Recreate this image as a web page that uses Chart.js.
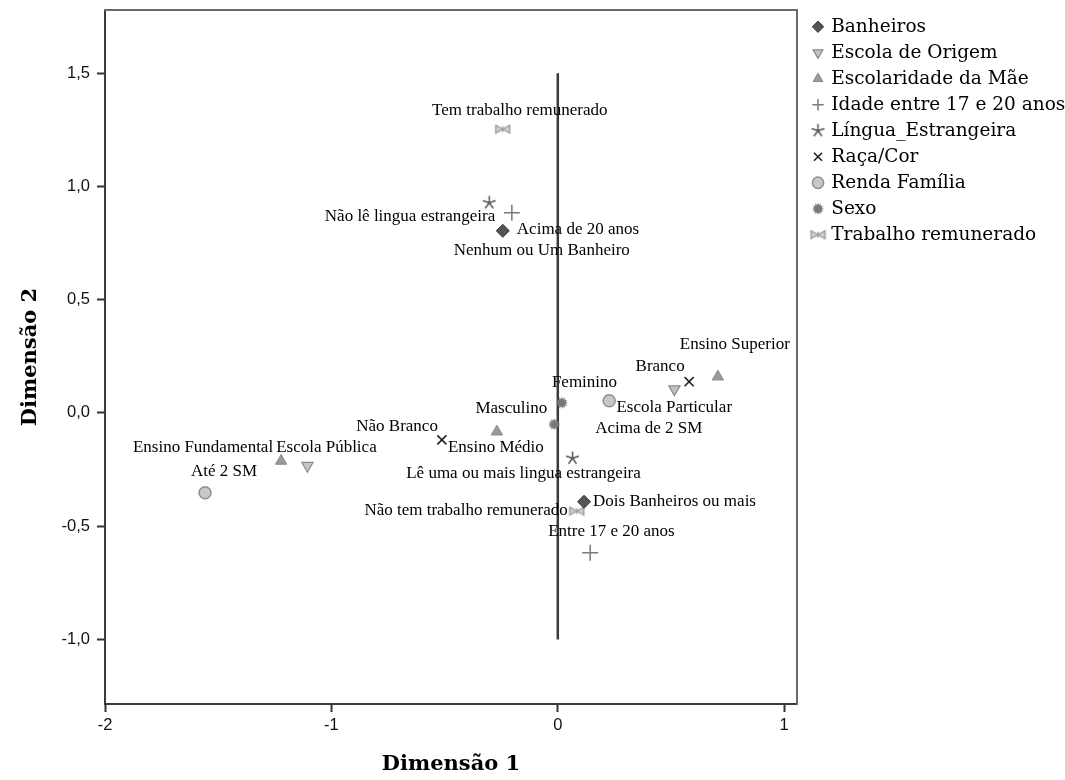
<!DOCTYPE html>
<html><head><meta charset="utf-8">
<script src="https://cdn.jsdelivr.net/npm/chart.js@4/dist/chart.umd.min.js"></script>
<style>html,body{margin:0;padding:0;background:#fff}#wrap{width:1065px;height:780px}</style>
</head><body><div id="wrap"><canvas id="c" width="1065" height="780"></canvas></div>
<script>
// ---------- data ----------
const seriesNames = ['Banheiros','Escola de Origem','Escolaridade da Mãe','Idade entre 17 e 20 anos','Língua_Estrangeira','Raça/Cor','Renda Família','Sexo','Trabalho remunerado'];

const banheirosLabels = ['Nenhum ou Um Banheiro','Dois Banheiros ou mais'];
const banheirosX = [-0.243, 0.116];
const banheirosY = [0.804, -0.392];

const escolaLabels = ['Escola Pública','Escola Particular'];
const escolaX = [-1.106, 0.515];
const escolaY = [-0.233, 0.105];

const maeLabels = ['Ensino Fundamental','Ensino Médio','Ensino Superior'];
const maeX = [-1.222, -0.269, 0.707];
const maeY = [-0.212, -0.083, 0.160];

const idadeLabels = ['Acima de 20 anos','Entre 17 e 20 anos'];
const idadeX = [-0.203, 0.143];
const idadeY = [0.884, -0.617];

const linguaLabels = ['Não lê lingua estrangeira','Lê uma ou mais lingua estrangeira'];
const linguaX = [-0.303, 0.065];
const linguaY = [0.928, -0.200];

const racaLabels = ['Branco','Não Branco'];
const racaX = [0.580, -0.512];
const racaY = [0.138, -0.119];

const rendaLabels = ['Até 2 SM','Acima de 2 SM'];
const rendaX = [-1.558, 0.227];
const rendaY = [-0.352, 0.054];

const sexoLabels = ['Feminino','Masculino'];
const sexoX = [0.018, -0.016];
const sexoY = [0.045, -0.050];

const trabalhoLabels = ['Tem trabalho remunerado','Não tem trabalho remunerado'];
const trabalhoX = [-0.243, 0.084];
const trabalhoY = [1.253, -0.433];

const refLineX = [0, 0];
const refLineY = [1.5, -1.0];

const xTicks = [-2, -1, 0, 1];
const yTicks = [-1.0, -0.5, 0, 0.5, 1.0, 1.5];

// ---------- label placement (pixel offsets from the point) ----------
const placeBanheiros = [[39, 20, 'center'], [9, 0, 'left']];
const placeEscola = [[19, -18, 'center'], [-58, 18, 'left']];
const placeMae = [[-8, -13, 'right'], [-49, 16, 'left'], [-38, -32, 'left']];
const placeIdade = [[5, 17, 'left'], [-42, -21, 'left']];
const placeLingua = [[6, 14, 'right'], [-49, 15, 'center']];
const placeRaca = [[-29, -15, 'center'], [-4, -13, 'right']];
const placeRenda = [[19, -21, 'center'], [-14, 28, 'left']];
const placeSexo = [[-10, -20, 'left'], [-7, -16, 'right']];
const placeTrabalho = [[17, -19, 'center'], [-9, 0, 'right']];

// ---------- custom marker images ----------
function makeMarker(w, h, draw) {
  const c = document.createElement('canvas');
  c.width = w; c.height = h;
  const g = c.getContext('2d');
  draw(g, w / 2, h / 2);
  return c;
}
const starMarker = makeMarker(15, 15, (g, cx, cy) => {
  g.strokeStyle = '#555'; g.lineWidth = 1.5; g.lineCap = 'round';
  g.beginPath();
  for (let k = 0; k < 5; k++) {
    const a = -Math.PI / 2 + k * 2 * Math.PI / 5;
    g.moveTo(cx, cy);
    g.lineTo(cx + Math.cos(a) * 6.2, cy + Math.sin(a) * 6.2);
  }
  g.stroke();
});
const sexoMarker = makeMarker(14, 14, (g, cx, cy) => {
  g.fillStyle = '#7a7a7a';
  g.beginPath();
  const n = 12;
  for (let k = 0; k < 2 * n; k++) {
    const a = k * Math.PI / n;
    const r = (k % 2 === 0) ? 6 : 3.8;
    const px = cx + Math.cos(a) * r, py = cy + Math.sin(a) * r;
    if (k === 0) g.moveTo(px, py); else g.lineTo(px, py);
  }
  g.closePath(); g.fill();
});
const bowtieMarker = makeMarker(17, 11, (g, cx, cy) => {
  g.fillStyle = '#d0d0d0'; g.strokeStyle = '#999'; g.lineWidth = 1.3;
  g.beginPath();
  g.moveTo(1.5, 1.5); g.lineTo(cx, cy); g.lineTo(1.5, 9.5); g.closePath();
  g.moveTo(15.5, 1.5); g.lineTo(cx, cy); g.lineTo(15.5, 9.5); g.closePath();
  g.fill(); g.stroke();
  g.beginPath(); g.moveTo(cx, 2.5); g.lineTo(cx, 8.5); g.stroke();
});

function pts(xs, ys) { return xs.map((x, i) => ({ x: x, y: ys[i] })); }

const datasets = [
  { label: seriesNames[0], data: pts(banheirosX, banheirosY), pointLabels: banheirosLabels, place: placeBanheiros,
    pointStyle: 'rectRot', pointRadius: 6.5, backgroundColor: '#555555', borderColor: '#333333', borderWidth: 1 },
  { label: seriesNames[1], data: pts(escolaX, escolaY), pointLabels: escolaLabels, place: placeEscola,
    pointStyle: 'triangle', rotation: 180, pointRadius: 6.5, backgroundColor: '#c4c4c4', borderColor: '#8a8a8a', borderWidth: 1.2 },
  { label: seriesNames[2], data: pts(maeX, maeY), pointLabels: maeLabels, place: placeMae,
    pointStyle: 'triangle', pointRadius: 6.5, backgroundColor: '#9a9a9a', borderColor: '#888888', borderWidth: 1 },
  { label: seriesNames[3], data: pts(idadeX, idadeY), pointLabels: idadeLabels, place: placeIdade,
    pointStyle: 'cross', pointRadius: 8, backgroundColor: '#7a7a7a', borderColor: '#7a7a7a', borderWidth: 1.5 },
  { label: seriesNames[4], data: pts(linguaX, linguaY), pointLabels: linguaLabels, place: placeLingua,
    pointStyle: starMarker, pointRadius: 7, backgroundColor: '#555', borderColor: '#555', borderWidth: 1 },
  { label: seriesNames[5], data: pts(racaX, racaY), pointLabels: racaLabels, place: placeRaca,
    pointStyle: 'crossRot', pointRadius: 6.4, backgroundColor: '#222', borderColor: '#222222', borderWidth: 1.6 },
  { label: seriesNames[6], data: pts(rendaX, rendaY), pointLabels: rendaLabels, place: placeRenda,
    pointStyle: 'circle', pointRadius: 6, backgroundColor: '#c8c8c8', borderColor: '#8f8f8f', borderWidth: 1.5 },
  { label: seriesNames[7], data: pts(sexoX, sexoY), pointLabels: sexoLabels, place: placeSexo,
    pointStyle: sexoMarker, pointRadius: 7, backgroundColor: '#7a7a7a', borderColor: '#7a7a7a', borderWidth: 1 },
  { label: seriesNames[8], data: pts(trabalhoX, trabalhoY), pointLabels: trabalhoLabels, place: placeTrabalho,
    pointStyle: bowtieMarker, pointRadius: 8, backgroundColor: '#d0d0d0', borderColor: '#999', borderWidth: 1 },
  { label: 'ref', type: 'line', data: pts(refLineX, refLineY), borderColor: '#3a3a3a', borderWidth: 2.5,
    pointRadius: 0, showLine: true, fill: false }
];

const labelPlugin = {
  id: 'pointLabels',
  afterDatasetsDraw(chart) {
    const ctx = chart.ctx;
    ctx.save();
    ctx.font = '17px "Liberation Serif"';
    ctx.fillStyle = '#000';
    ctx.textBaseline = 'middle';
    chart.data.datasets.forEach((ds, di) => {
      if (!ds.pointLabels) return;
      const meta = chart.getDatasetMeta(di);
      meta.data.forEach((el, i) => {
        const p = ds.place[i];
        ctx.textAlign = p[2];
        ctx.fillText(ds.pointLabels[i], el.x + p[0], el.y + p[1]);
      });
    });
    ctx.restore();
  }
};

const fmt = v => String(v);
const fmtY = v => v.toFixed(1).replace('.', ',');
const noPad = s => { s.paddingTop = 0; s.paddingBottom = 0; s.paddingLeft = 0; s.paddingRight = 0; };

const chart = new Chart(document.getElementById('c'), {
  type: 'scatter',
  data: { datasets: datasets },
  plugins: [labelPlugin],
  options: {
    responsive: false,
    devicePixelRatio: 1,
    animation: false,
    layout: { padding: { top: 10, left: 0, bottom: 0, right: 0 } },
    plugins: {
      tooltip: { enabled: false },
      legend: {
        position: 'right',
        align: 'start',
        maxWidth: 400,
        labels: {
          usePointStyle: true,
          boxWidth: 8,
          boxHeight: 8,
          padding: 7.5,
          color: '#000',
          font: { family: '"DejaVu Serif"', size: 18.5 },
          filter: item => item.text !== 'ref'
        }
      }
    },
    scales: {
      x: {
        type: 'linear', position: 'bottom', min: -2, max: 1.0565,
        afterBuildTicks: s => { s.ticks = xTicks.map(v => ({ value: v })); },
        afterFit: s => { s.height = 76; noPad(s); },
        ticks: { callback: v => fmt(v), color: '#111', padding: 4, font: { family: '"Liberation Sans"', size: 16.5 } },
        grid: { drawOnChartArea: false, drawTicks: true, tickLength: 8, tickWidth: 2, tickColor: '#333' },
        border: { display: true, color: '#3a3a3a', width: 2 },
        title: { display: true, text: 'Dimensão 1', color: '#000', padding: { top: 0, bottom: 3 },
                 font: { family: '"DejaVu Serif"', size: 21, weight: 'bold' } }
      },
      y: {
        type: 'linear', position: 'left', min: -1.285, max: 1.779,
        afterBuildTicks: s => { s.ticks = yTicks.map(v => ({ value: v })); },
        afterFit: s => { s.width = 105; noPad(s); },
        ticks: { callback: v => fmtY(v), color: '#111', padding: 7, font: { family: '"Liberation Sans"', size: 16.5 } },
        grid: { drawOnChartArea: false, drawTicks: true, tickLength: 8, tickWidth: 2, tickColor: '#333' },
        border: { display: true, color: '#3a3a3a', width: 2 },
        title: { display: true, text: 'Dimensão 2', color: '#000', padding: { top: 18, bottom: 0 },
                 font: { family: '"DejaVu Serif"', size: 21, weight: 'bold' } }
      },
      x2: {
        type: 'linear', position: 'top', min: 0, max: 1,
        afterFit: s => { s.height = 0; noPad(s); },
        ticks: { display: false }, grid: { display: false, drawTicks: false },
        border: { display: true, color: '#6a6a6a', width: 2 }
      },
      y2: {
        type: 'linear', position: 'right', min: 0, max: 1,
        afterFit: s => { s.width = 9.5; noPad(s); },
        ticks: { display: false }, grid: { display: false, drawTicks: false },
        border: { display: true, color: '#6a6a6a', width: 2 }
      }
    }
  }
});
function fitRight() {
  const a = chart.chartArea, p = chart.options.layout.padding;
  p.right += a.right - 797;
  chart.update('none');
}
fitRight();
fitRight();
</script>
</body></html>
